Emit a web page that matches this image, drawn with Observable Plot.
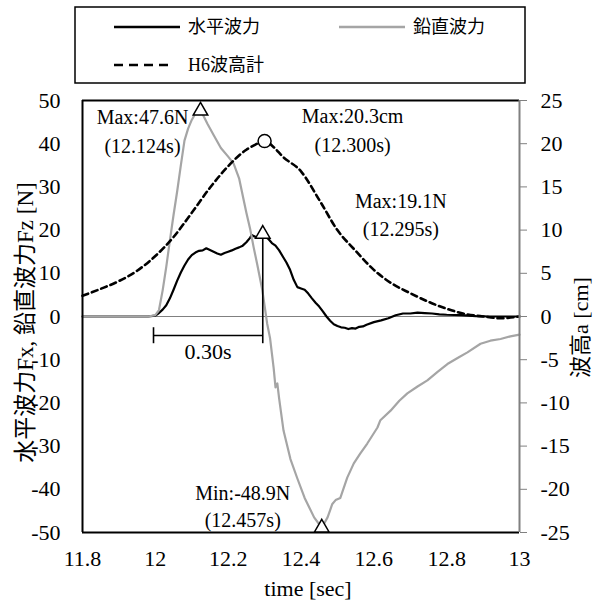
<!DOCTYPE html>
<html>
<head>
<meta charset="utf-8">
<script src="https://cdn.jsdelivr.net/npm/d3@7"></script>
<script src="https://cdn.jsdelivr.net/npm/@observablehq/plot@0.6"></script>
<style>
  body { margin: 0; background: #fff; }
  #wrap { position: relative; width: 600px; height: 600px; color: #000;
          font-family: "Liberation Serif", "Noto Sans CJK JP", serif; }
  #chart { position: absolute; left: 0; top: 0; }
  #legend { position: absolute; left: 0; top: 0; }
</style>
</head>
<body>
<div id="wrap"><div id="chart"></div><svg id="legend" width="600" height="90"></svg></div>
<script>
// ---- data ----
const fxTime  = [11.80, 11.90, 11.98, 12.00, 12.01, 12.02, 12.03, 12.04, 12.05, 12.06, 12.07, 12.08, 12.09, 12.10, 12.11, 12.12, 12.13, 12.14, 12.15, 12.16, 12.17, 12.18, 12.19, 12.20, 12.21, 12.22, 12.23, 12.24, 12.25, 12.26, 12.265, 12.27, 12.28, 12.29, 12.295, 12.30, 12.31, 12.32, 12.33, 12.34, 12.35, 12.36, 12.37, 12.38, 12.39, 12.40, 12.41, 12.42, 12.43, 12.44, 12.45, 12.46, 12.47, 12.48, 12.49, 12.50, 12.51, 12.52, 12.53, 12.54, 12.55, 12.56, 12.57, 12.58, 12.60, 12.62, 12.64, 12.66, 12.68, 12.70, 12.72, 12.74, 12.76, 12.78, 12.80, 12.84, 12.88, 12.92, 13.00];
const fxValue = [0, 0, 0, 0.2, 0.8, 1.6, 2.6, 4.2, 6.2, 8.3, 10.2, 11.8, 13.2, 14.2, 14.8, 15.2, 15.3, 15.8, 15.4, 15.0, 14.6, 14.3, 14.7, 15.0, 15.3, 15.7, 16.0, 16.4, 17.2, 18.2, 18.9, 18.6, 18.3, 18.9, 19.1, 18.6, 18.0, 17.0, 16.4, 15.3, 13.9, 12.5, 10.8, 8.5, 6.8, 6.5, 6.2, 5.3, 4.2, 3.2, 2.3, 1.2, 0, -1.0, -1.8, -2.2, -2.5, -2.6, -2.9, -2.7, -2.8, -2.4, -2.3, -1.9, -1.3, -0.9, -0.4, 0.3, 0.7, 0.7, 0.9, 0.8, 0.7, 0.5, 0.4, 0.3, 0.1, 0, 0];

const fzTime  = [11.80, 11.90, 11.98, 12.00, 12.01, 12.02, 12.03, 12.04, 12.05, 12.06, 12.07, 12.08, 12.09, 12.10, 12.11, 12.124, 12.13, 12.143, 12.16, 12.18, 12.20, 12.215, 12.23, 12.243, 12.25, 12.261, 12.27, 12.28, 12.294, 12.307, 12.315, 12.325, 12.33, 12.335, 12.34, 12.352, 12.371, 12.39, 12.41, 12.436, 12.457, 12.473, 12.486, 12.495, 12.508, 12.527, 12.545, 12.563, 12.582, 12.61, 12.618, 12.646, 12.67, 12.692, 12.72, 12.747, 12.775, 12.802, 12.83, 12.857, 12.893, 12.92, 12.948, 12.975, 13.00];
const fzValue = [0, 0, 0, 0.3, 1.5, 6, 11.5, 17.6, 23.5, 29, 35, 40.7, 43.5, 45.5, 47, 47.6, 46.8, 44.6, 42, 39, 37, 35.4, 32, 26.8, 24, 20, 16, 12, 6, -1.6, -5, -12, -16.4, -15.5, -19, -26.4, -33, -37.5, -42, -46.5, -48.9, -46.5, -43.4, -42.5, -42, -37.3, -34, -31.7, -29.4, -25.7, -24, -21.8, -19.5, -17.8, -16.2, -14.8, -12.8, -11, -9.6, -8.3, -6.3, -5.6, -5.2, -4.6, -4.2];

const h6Time  = [11.80, 11.85, 11.90, 11.95, 12.00, 12.05, 12.10, 12.15, 12.20, 12.25, 12.275, 12.30, 12.325, 12.35, 12.40, 12.45, 12.50, 12.55, 12.60, 12.65, 12.70, 12.75, 12.80, 12.85, 12.90, 12.95, 13.00];
const h6Value = [2.4, 3.2, 4.1, 5.3, 7.0, 9.2, 12.0, 14.9, 17.4, 19.3, 19.9, 20.3, 19.6, 18.5, 16.8, 13.5, 10.0, 7.6, 5.4, 3.8, 2.7, 1.7, 0.9, 0.3, 0, -0.2, 0];

const xTicks      = [11.8, 12, 12.2, 12.4, 12.6, 12.8, 13];
const yLeftTicks  = [-50, -40, -30, -20, -10, 0, 10, 20, 30, 40, 50];
const yRightTicks = [-25, -20, -15, -10, -5, 0, 5, 10, 15, 20, 25];
const rightFactor = 2; // 50 N on the left axis = 25 cm on the right axis

const forcePeakTime  = [12.124, 12.295, 12.457];
const forcePeakValue = [47.6, 19.1, -48.9];
const forcePeakText  = ["Max:47.6N\n(12.124s)", "Max:19.1N\n(12.295s)", "Min:-48.9N\n(12.457s)"];
const h6PeakTime  = 12.300;
const h6PeakValue = 20.3;
const h6PeakText  = "Max:20.3cm\n(12.300s)";

const spanStart = 11.995, spanEnd = 12.295, spanLevel = -4.4, capTop = -2.6, capBottom = -6.3;
const spanText = "0.30s";

const legendLabels = ["水平波力", "鉛直波力", "H6波高計"];
const leftTitle  = "水平波力Fx, 鉛直波力Fz [N]";
const rightTitle = "波高a [cm]";
const bottomTitle = "time [sec]";

// ---- build tables ----
const fx = fxTime.map((t, i) => ({t, v: fxValue[i]}));
const fz = fzTime.map((t, i) => ({t, v: fzValue[i]}));
const h6 = h6Time.map((t, i) => ({t, v: h6Value[i] * rightFactor}));
const peaks = forcePeakTime.map((t, i) => ({t, v: forcePeakValue[i], label: forcePeakText[i]}));
const h6Peak = [{t: h6PeakTime, v: h6PeakValue * rightFactor, label: h6PeakText}];
const gray = "#a5a5a5";
const axisGray = "#808080";
const font = "'Liberation Serif', 'Times New Roman', 'Noto Sans CJK JP', serif";

const chart = Plot.plot({
  width: 600, height: 600,
  marginLeft: 82, marginRight: 81, marginTop: 100, marginBottom: 68,
  x: {domain: [xTicks[0], xTicks[xTicks.length - 1]]},
  y: {domain: [yLeftTicks[0], yLeftTicks[yLeftTicks.length - 1]]},
  style: {fontFamily: font, fontSize: "22px", color: "#000", background: "transparent", overflow: "visible"},
  marks: [
    Plot.ruleY([0], {stroke: axisGray, strokeWidth: 1}),
    Plot.line(fx, {x: "t", y: "v", stroke: "#000", strokeWidth: 2.2}),
    Plot.line(fz, {x: "t", y: "v", stroke: gray, strokeWidth: 2.2}),
    Plot.line(h6, {x: "t", y: "v", stroke: "#000", strokeWidth: 2.6, strokeDasharray: "6,4", curve: "monotone-x"}),
    // frame
    Plot.ruleY([yLeftTicks[0], yLeftTicks[yLeftTicks.length - 1]], {stroke: "#000", strokeWidth: 2}),
    Plot.ruleX([xTicks[0]], {stroke: "#000", strokeWidth: 2}),
    Plot.ruleX([xTicks[xTicks.length - 1]], {stroke: axisGray, strokeWidth: 2}),
    // 0.30s span
    Plot.ruleY([spanLevel], {x1: spanStart, x2: spanEnd, stroke: "#000", strokeWidth: 1.6}),
    Plot.ruleX([spanStart], {y1: capTop, y2: capBottom, stroke: "#000", strokeWidth: 1.6}),
    Plot.ruleX([spanEnd], {y1: capBottom, y2: forcePeakValue[1], stroke: "#000", strokeWidth: 1.6}),
    Plot.text([spanText], {x: (spanStart + spanEnd) / 2, y: spanLevel, text: d => d, dy: 16, fontSize: 22}),
    // markers
    Plot.dot(peaks, {x: "t", y: "v", symbol: "triangle", r: 5.4, fill: "#fff", stroke: "#000", strokeWidth: 1.5}),
    Plot.dot(h6Peak, {x: "t", y: "v", r: 6.5, fill: "#fff", stroke: "#000", strokeWidth: 1.5}),
    // annotations
    Plot.text([peaks[0]], {x: "t", y: "v", text: "label", dx: -58, dy: 18, fontSize: 20, lineHeight: 1.45}),
    Plot.text([peaks[1]], {x: "t", y: "v", text: "label", dx: 138, dy: -21, fontSize: 20, lineHeight: 1.4}),
    Plot.text([peaks[2]], {x: "t", y: "v", text: "label", dx: -79, dy: -23, fontSize: 20, lineHeight: 1.35}),
    Plot.text(h6Peak, {x: "t", y: "v", text: "label", dx: 88, dy: -13, fontSize: 20, lineHeight: 1.45}),
    // axes
    Plot.axisX({ticks: xTicks, tickFormat: d => String(d), tickSize: 0, tickPadding: 18, label: null}),
    Plot.axisY({ticks: yLeftTicks, tickFormat: d => String(d), tickSize: 0, tickPadding: 22, label: null}),
    Plot.axisY({anchor: "right", ticks: yRightTicks.map(d => d * rightFactor), tickFormat: d => String(d / rightFactor),
                tickSize: 7, tickPadding: 14, stroke: axisGray, label: null}),
    // axis titles
    Plot.text([leftTitle], {text: d => d, frameAnchor: "left", textAnchor: "middle", lineAnchor: "middle",
                            dx: -57, dy: 6, rotate: -90, fontSize: 23}),
    Plot.text([rightTitle], {text: d => d, frameAnchor: "right", textAnchor: "middle", lineAnchor: "middle",
                             dx: 61, dy: 11, rotate: -90, fontSize: 22}),
    Plot.text([bottomTitle], {text: d => d, frameAnchor: "bottom", textAnchor: "middle", lineAnchor: "middle",
                              dx: 7, dy: 56, fontSize: 22})
  ]
});
document.getElementById("chart").appendChild(chart);

// ---- legend ----
const leg = d3.select("#legend");
leg.append("rect").attr("x", 75).attr("y", 7).attr("width", 450).attr("height", 76)
   .attr("fill", "#fff").attr("stroke", "#000").attr("stroke-width", 1.5);
const legItems = [
  {x1: 114, x2: 180, tx: 188, y: 27, stroke: "#000", dash: null},
  {x1: 339, x2: 405, tx: 413, y: 27, stroke: gray, dash: null},
  {x1: 114, x2: 170, tx: 188, y: 65, stroke: "#000", dash: "9,6"}
];
legItems.forEach((it, i) => {
  leg.append("line").attr("x1", it.x1).attr("x2", it.x2).attr("y1", it.y).attr("y2", it.y)
     .attr("stroke", it.stroke).attr("stroke-width", 2.6).attr("stroke-dasharray", it.dash);
  leg.append("text").attr("x", it.tx).attr("y", it.y).attr("dy", "0.35em")
     .attr("font-family", font).attr("font-size", 18).attr("fill", "#000").text(legendLabels[i]);
});
</script>
</body>
</html>
